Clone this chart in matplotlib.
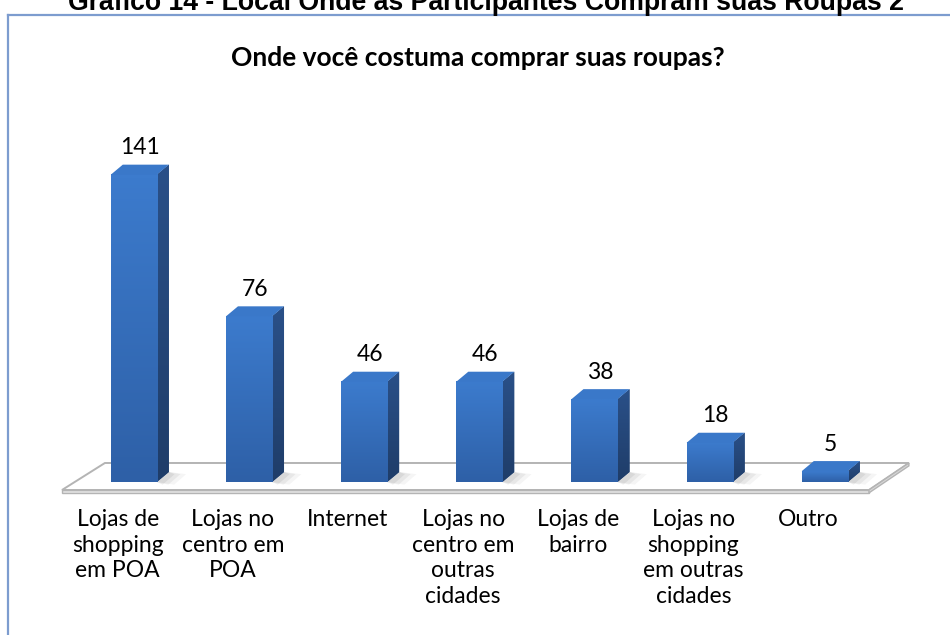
"""
Gráfico de barras 3D (estilo Excel): onde as participantes compram roupas.
"""

import matplotlib.pyplot as plt
import numpy as np
from matplotlib.patches import Polygon
from matplotlib.lines import Line2D
from matplotlib.colors import LinearSegmentedColormap
from matplotlib.transforms import blended_transform_factory

categorias = ['Lojas de\nshopping\nem POA', 'Lojas no\ncentro em\nPOA',
              'Internet', 'Lojas no\ncentro em\noutras\ncidades',
              'Lojas de\nbairro', 'Lojas no\nshopping\nem outras\ncidades',
              'Outro']
valores = [141, 76, 46, 46, 38, 18, 5]

titulo_figura = 'Gráfico 14 - Local Onde as Participantes Compram suas Roupas 2'
titulo_grafico = 'Onde você costuma comprar suas roupas?'

# geometria do "3D"
meia_largura = 0.20
DX = 0.104   # profundidade em x (unidades de categoria)
DY = 4.6     # profundidade em y (unidades de valor)

fonte = 'Lato'

fig = plt.figure(figsize=(9.5, 6.35), dpi=100)
ax = fig.add_axes([40 / 950, 135 / 635, 900 / 950, 370 / 635])
ax.set_xlim(-0.815, 7.0)
ax.set_ylim(-8.26, 161.5)
ax.axis('off')

# moldura do gráfico
cor_borda = '#7d9ccf'
fig.add_artist(Line2D([8 / 950, 1.0], [1 - 15 / 635, 1 - 15 / 635],
                      transform=fig.transFigure, color=cor_borda, lw=1.6))
fig.add_artist(Line2D([8 / 950, 8 / 950], [0, 1 - 15 / 635],
                      transform=fig.transFigure, color=cor_borda, lw=1.6))

# piso
piso = [(-0.624, -3.67), (-0.2515, 8.72), (6.73, 8.72), (6.383, -3.67)]
frente_piso = [(-0.624, -3.67), (6.383, -3.67), (6.383, -5.0), (-0.624, -5.0)]
lado_piso = [(6.383, -3.67), (6.73, 8.72), (6.73, 7.4), (6.383, -5.0)]
ax.add_patch(Polygon(piso, closed=True, facecolor='white',
                     edgecolor='#b4b4b4', lw=1.4, zorder=1))
ax.add_patch(Polygon(frente_piso, closed=True, facecolor='#e4e4e4',
                     edgecolor='#b4b4b4', lw=1.0, zorder=1))
ax.add_patch(Polygon(lado_piso, closed=True, facecolor='#d8d8d8',
                     edgecolor='#b4b4b4', lw=1.0, zorder=1))

cmap_frente = LinearSegmentedColormap.from_list('frente', ['#2e60a7', '#3c7bcd'])
cmap_lado = LinearSegmentedColormap.from_list('lado', ['#1f3d69', '#2a5088'])
grad = np.linspace(0, 1, 64).reshape(-1, 1)

for i, v in enumerate(valores):
    x0, x1 = i - meia_largura, i + meia_largura

    # sombra no piso
    for k, a in enumerate([0.10, 0.08, 0.06]):
        s = 0.05 * (k + 1)
        sombra = [(x1, 0), (x1 + DX, DY), (x1 + DX + s, DY - 1),
                  (x1 + s, -1.2)]
        ax.add_patch(Polygon(sombra, closed=True, facecolor='#555555',
                             edgecolor='none', alpha=a, zorder=2))

    # face frontal com gradiente
    ax.imshow(grad, extent=(x0, x1, 0, v), origin='lower', cmap=cmap_frente,
              aspect='auto', zorder=4, interpolation='bilinear')
    # face lateral
    lado = Polygon([(x1, 0), (x1 + DX, DY), (x1 + DX, v + DY), (x1, v)],
                   closed=True, facecolor='#26497c', edgecolor='none',
                   zorder=3)
    ax.add_patch(lado)
    im = ax.imshow(grad, extent=(x1, x1 + DX, 0, v + DY), origin='lower',
                   cmap=cmap_lado, aspect='auto', zorder=3,
                   interpolation='bilinear')
    im.set_clip_path(lado)
    # face superior
    ax.add_patch(Polygon([(x0, v), (x0 + DX, v + DY), (x1 + DX, v + DY),
                          (x1, v)], closed=True, facecolor='#3a78c9',
                         edgecolor='none', zorder=5))

    # rótulo de valor
    ax.text(i + DX / 2, v + DY + 3.0, str(v), ha='center', va='bottom',
            fontsize=16.5, family=fonte, color='black', zorder=6)

ax.set_xlim(-0.815, 7.0)
ax.set_ylim(-8.26, 161.5)

# rótulos das categorias
trans = blended_transform_factory(ax.transData, fig.transFigure)
for i, cat in enumerate(categorias):
    ax.text(i - 0.14, 1 - 509 / 635, cat, transform=trans, ha='center',
            va='top', fontsize=16.5, family=fonte, linespacing=1.27,
            multialignment='center', color='black', clip_on=False)

# títulos
fig.text(0.512, 1 - 10 / 635, titulo_figura, ha='center', va='baseline',
         fontsize=19.2, fontweight='bold', family='Liberation Sans')
fig.text(0.503, 1 - 66 / 635, titulo_grafico, ha='center', va='baseline',
         fontsize=19, fontweight='bold', family=fonte)

plt.savefig('out.png', dpi=100)
